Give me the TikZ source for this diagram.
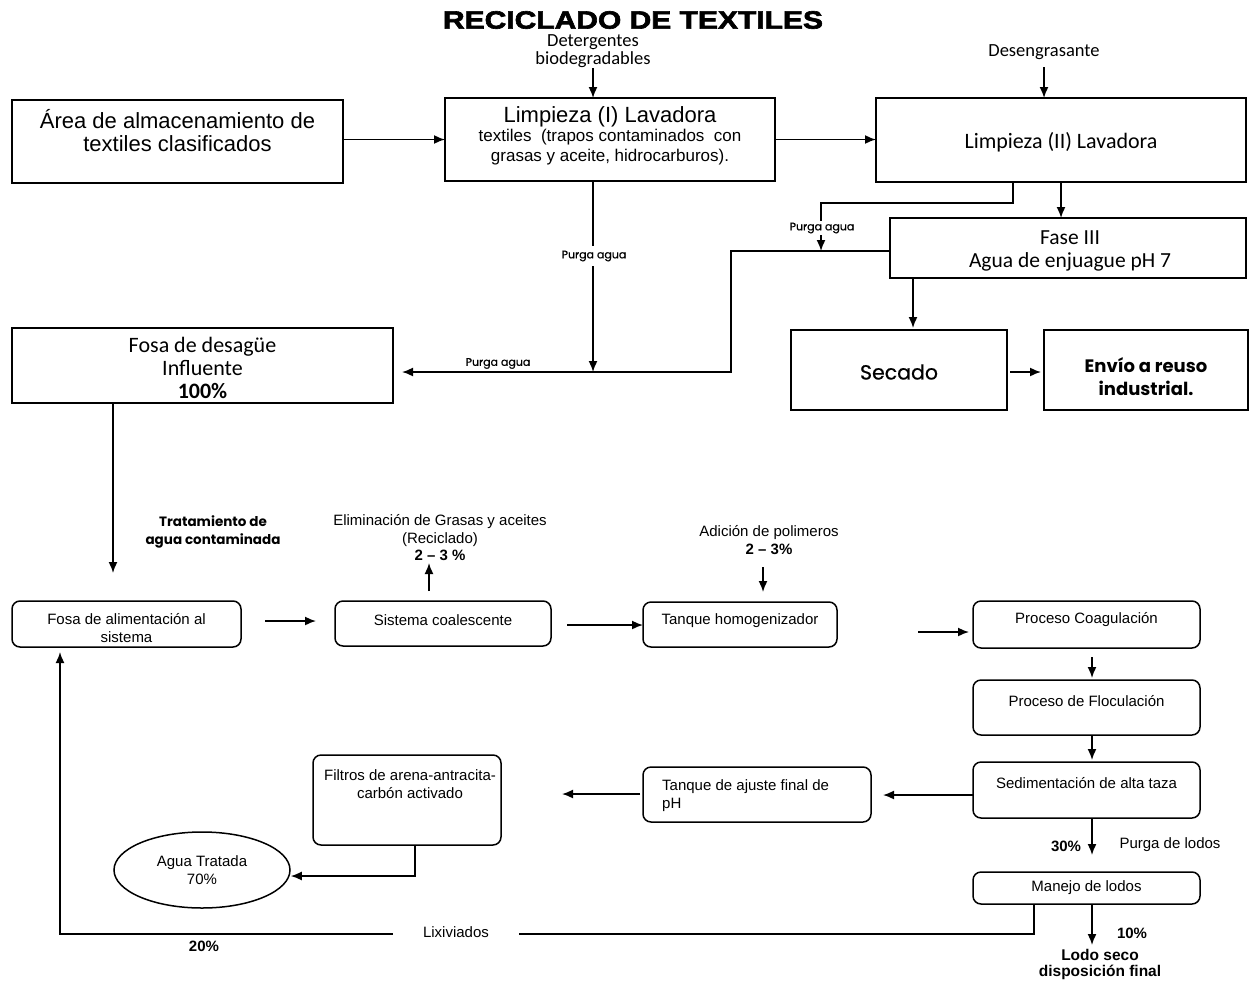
\documentclass[tikz,border=0pt]{standalone}
\usepackage{fontspec}
\setmainfont{Liberation Sans}
\newfontfamily\carl{Carlito}
\newfontfamily\popp{Poppins}
\newfontfamily\poppm{Poppins}[FakeBold=0.6]
\newfontfamily\heavy{Liberation Sans}[UprightFont={* Bold},FakeBold=2.5,FakeStretch=1.2]
\usetikzlibrary{arrows.meta,shapes.geometric}

\tikzset{
  sq/.style={draw, line width=1.8pt, inner sep=0pt, outer sep=0pt},
  rb/.style={draw, line width=1.5pt, rounded corners=8pt, inner sep=0pt, outer sep=0pt},
  ln/.style={line width=1.6pt},
  arr/.style={ln, -{Latex[length=11pt,width=9pt]}},
  txt/.style={align=center, inner sep=0pt},
  gap/.style={txt, fill=white, inner xsep=4pt, inner ysep=3pt},
  fbig/.style={font=\fontsize{22}{23}\selectfont},
  fcal/.style={font=\carl\fontsize{22}{23}\selectfont},
  fsmall/.style={font=\fontsize{15}{17.5}\selectfont},
  fbold/.style={font=\bfseries\fontsize{15}{17.5}\selectfont},
  fpop/.style={font=\poppm\fontsize{11}{13}\selectfont},
}

\begin{document}
\begin{tikzpicture}[x=1pt,y=-1pt]
\fill[white] (0,0) rectangle (1257,985);
\useasboundingbox (0,0) rectangle (1257,985);

% ---------- title ----------
\node[txt, font=\heavy\fontsize{25}{28}\selectfont] (title) at (633,20) {RECICLADO DE TEXTILES};

% ---------- washing line ----------
\node[sq, minimum width=331pt, minimum height=83pt] (b1) at (177.5,141.5) {};
\node[txt, fbig] (b1t) at (177.5,131) {Área de almacenamiento de\\textiles clasificados};

\node[sq, minimum width=330pt, minimum height=83pt] (b2) at (610,139.5) {};
\node[txt, font=\fontsize{22}{22}\selectfont] (b2t) at (610,117) {Limpieza (I) Lavadora};
\node[txt, font=\fontsize{17}{20}\selectfont] (b2s) at (610,147) {textiles\ \ (trapos\ contaminados\ \ con\\grasas y aceite, hidrocarburos).};

\node[txt, font=\carl\fontsize{18.5}{18}\selectfont] (det) at (593,51) {Detergentes\\biodegradables};
\draw[arr] (det.south |- 0,68) -- (det.south |- b2.north);

\node[sq, minimum width=370pt, minimum height=84pt] (b3) at (1061,140) {};
\node[txt, fcal] (b3t) at (1061,142) {Limpieza (II) Lavadora};

\node[txt, font=\carl\fontsize{18.5}{17}\selectfont] (des) at (1044,52) {Desengrasante};
\draw[arr] (des.south |- 0,67) -- (des.south |- b3.north);

\draw[arr] (b1.east |- b2.west) -- (b2.west);
\draw[arr] (b2.east) -- (b2.east -| b3.west);

\node[sq, minimum width=356pt, minimum height=60pt] (fase) at (1068,248) {};
\node[txt, font=\carl\fontsize{21.5}{23}\selectfont] (faset) at (1070,251) {Fase III\\Agua de enjuague pH 7};
\draw[arr] (b3.south) -- (b3.south |- fase.north);

% purge from the second washer
\coordinate (p2a) at (1013,182);
\coordinate (p2b) at (821,251);
\draw[arr] (p2a) -- (1013,203) -- (821,203) -- (p2b);
\node[gap, fpop, inner xsep=2pt, inner ysep=2pt] (pl2) at (822,228) {Purga agua};

% ---------- drain pit ----------
\node[sq, minimum width=381pt, minimum height=75pt] (fosa) at (202.5,365.5) {};
\node[txt, fcal] (fosat) at (202.5,368) {Fosa de desagüe\\Influente\\\textbf{100\%}};

\coordinate (p1a) at (593,181);
\coordinate (p1b) at (593,372);
\draw[arr] (p1a) -- (p1b);
\node[gap, fpop, inner ysep=5pt] (pl1) at (594,256) {Purga agua};

\draw[arr] (fase.west |- 0,251) -- (731,251) -- (731,372) -- ([xshift=9pt]fosa.east |- 0,372);
\node[txt, fpop, anchor=south] (pl0) at (498,369) {Purga agua};

% ---------- drying ----------
\node[sq, minimum width=216pt, minimum height=80pt] (sec) at (899,370) {};
\node[txt, font=\poppm\fontsize{20.5}{22}\selectfont] (sect) at (899,372) {Secado};
\node[sq, minimum width=204pt, minimum height=80pt] (env) at (1146,370) {};
\node[txt, font=\popp\bfseries\fontsize{18}{23}\selectfont] (envt) at (1146,377) {Envío a reuso\\industrial.};
\draw[arr] (913,278) -- (913,328);
\draw[arr] ([xshift=3pt]sec.east |- 0,372) -- ([xshift=-3pt]env.west |- 0,372);

% ---------- towards treatment ----------
\coordinate (tr) at (113,573);
\draw[arr] (fosa.south -| 113,0) -- (tr);
\node[txt, font=\popp\bfseries\fontsize{13.5}{18}\selectfont] (trt) at (213,532) {Tratamiento de\\agua contaminada};

% ---------- water treatment ----------
\node[rb, minimum width=229pt, minimum height=46pt] (fa) at (126.5,624) {};
\node[txt, font=\fontsize{15}{18}\selectfont] (fat) at (126.5,628) {Fosa de alimentación al\\sistema};

\node[rb, minimum width=216pt, minimum height=45pt] (sc) at (443,623.5) {};
\node[txt, fsmall] (sct) at (443,620) {Sistema coalescente};
\draw[arr] ([xshift=24pt]fa.east |- 0,621) -- ([xshift=-19pt]sc.west |- 0,621);

\node[txt, fsmall] (elim) at (440,538) {Eliminación de Grasas y aceites\\(Reciclado)\\\textbf{2 – 3 \%}};
\draw[arr] (429,591) -- (429,563);

\node[rb, minimum width=194pt, minimum height=45pt] (th) at (740,624.5) {};
\node[txt, fsmall] (tht) at (740,621) {Tanque homogenizador};
\draw[arr] ([xshift=16pt]sc.east |- 0,625) -- (th.west |- 0,625);

\node[txt, fsmall] (adi) at (769,540) {Adición de polimeros\\\textbf{2 – 3\%}};
\draw[arr] (763,567) -- (763,592);

\node[rb, minimum width=227pt, minimum height=47pt] (pc) at (1086.5,624.5) {};
\node[txt, fsmall] (pct) at (1086.5,620) {Proceso Coagulación};
\draw[arr] ([xshift=81pt]th.east |- 0,632) -- ([xshift=-4pt]pc.west |- 0,632);

\node[rb, minimum width=227pt, minimum height=55pt] (pf) at (1086.5,707.5) {};
\node[txt, fsmall] (pft) at (1086.5,701) {Proceso de Floculación};
\draw[arr] ([yshift=-9pt]pc.south -| 1092,0) -- ([yshift=2pt]pf.north -| 1092,0);

\node[rb, minimum width=227pt, minimum height=56pt] (sd) at (1086.5,790) {};
\node[txt, fsmall] (sdt) at (1086.5,783) {Sedimentación de alta taza};
\draw[arr] (pf.south -| 1092,0) -- ([yshift=2pt]sd.north -| 1092,0);

\node[rb, minimum width=228pt, minimum height=55pt] (ta) at (757,794.5) {};
\node[txt, fsmall, align=left, anchor=west] (tat) at (662,795.5) {Tanque de ajuste final de\\pH};
\draw[arr] (sd.west |- 0,795) -- ([xshift=12pt]ta.east |- 0,795);

\node[rb, minimum width=188pt, minimum height=90pt] (fi) at (407,800) {};
\node[txt, fsmall] (fit) at (410,784) {Filtros de arena-antracita-\\carbón activado};
\draw[arr] ([xshift=-3pt]ta.west |- 0,794) -- ([xshift=61pt]fi.east |- 0,794);

\node[draw, ellipse, line width=1.5pt, minimum width=176pt, minimum height=76pt, inner sep=0pt] (at) at (202,870) {};
\node[txt, fsmall] (att) at (202,870) {Agua Tratada\\70\%};
\draw[arr] (fi.south -| 415,0) -- (415,876) -- (at.east |- 0,876);

% ---------- sludge ----------
\node[rb, minimum width=227pt, minimum height=32pt] (ml) at (1086.5,888) {};
\node[txt, fsmall] (mlt) at (1086.5,888) {Manejo de lodos};
\draw[arr] (sd.south -| 1092,0) -- ([yshift=17pt]ml.north -| 1092,0);
\node[txt, fbold] (p30) at (1066,846) {30\%};
\node[txt, fsmall] (pdl) at (1170,845) {Purga de lodos};

\coordinate (lodo) at (1092,945);
\draw[arr] (ml.south -| 1092,0) -- (lodo);
\node[txt, fbold] (p10) at (1132,933) {10\%};
\node[txt, font=\bfseries\fontsize{15.5}{16}\selectfont] (lst) at (1100,964) {Lodo seco\\disposición final};

% leachate back to the feed pit
\draw[arr] (ml.south -| 1034,0) -- (1034,934) -- (60,934) -- ([yshift=-5pt]fa.south -| 60,0);
\node[gap, fsmall, inner xsep=30pt] (lix) at (456,932) {Lixiviados};
\node[txt, fbold] (p20) at (204,946) {20\%};

\end{tikzpicture}
\end{document}
